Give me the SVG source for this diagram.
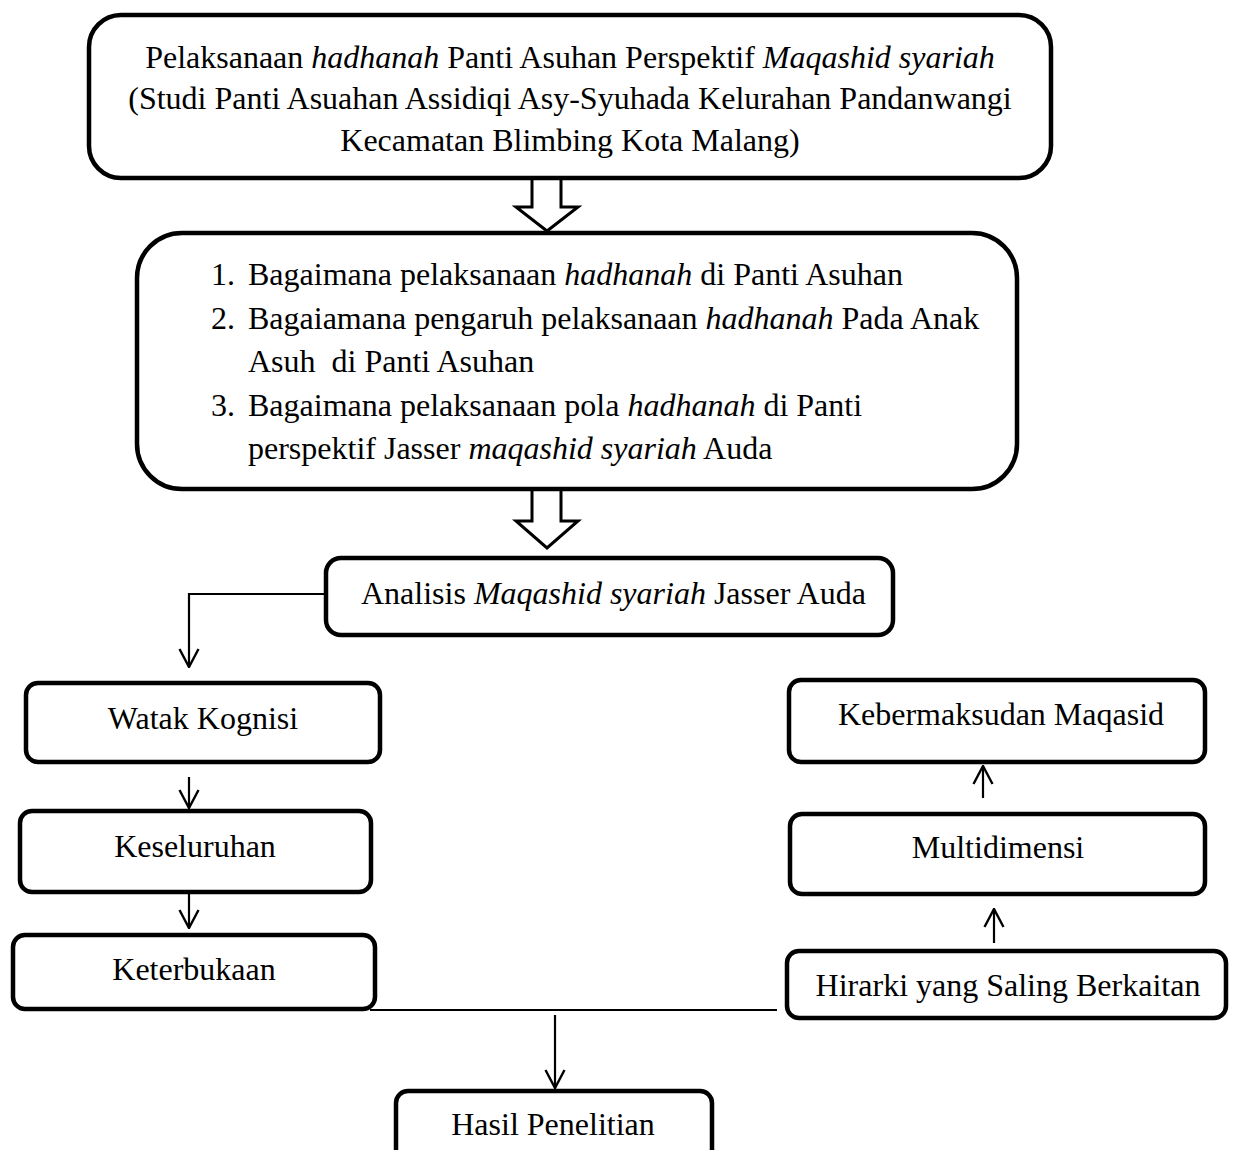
<svg xmlns="http://www.w3.org/2000/svg" width="1233" height="1150" viewBox="0 0 1233 1150">
<style>
.box{fill:#fff;stroke:#000;stroke-width:4.5}
.t{font-family:"Liberation Serif","Times New Roman",serif;font-size:32px;fill:#000}
.c{text-anchor:middle}
.i{font-style:italic}
.ln{fill:none;stroke:#000;stroke-width:2.2}
.ha{fill:#fff;stroke:#000;stroke-width:3;stroke-linejoin:miter}
</style>
<defs>
<marker id="ah" viewBox="0 0 20 22" refX="19" refY="11" markerWidth="20" markerHeight="22" markerUnits="userSpaceOnUse" orient="auto">
<path d="M1,1.5 L19,11 L1,20.5" fill="none" stroke="#000" stroke-width="2.4"/>
</marker>
</defs>
<rect width="1233" height="1150" fill="#fff"/>
<g id="connectors">
<path class="ha" d="M532,178 L532,207 L516,207 L547,231 L578,207 L561,207 L561,178"/>
<path class="ha" d="M532,490 L532,521 L516,521 L547,548 L578,521 L561,521 L561,490"/>
<path class="ln" d="M326,594 H189 V667" marker-end="url(#ah)"/>
<path class="ln" d="M189,777 V808" marker-end="url(#ah)"/>
<path class="ln" d="M189,893 V928" marker-end="url(#ah)"/>
<path class="ln" d="M370,1010 H777"/>
<path class="ln" d="M555,1015 V1088" marker-end="url(#ah)"/>
<path class="ln" d="M983,798 V766" marker-end="url(#ah)"/>
<path class="ln" d="M994,943 V909" marker-end="url(#ah)"/>
</g>
<g id="n-title">
<rect class="box" x="89" y="15" width="962" height="163" rx="32"/>
<text class="t c" x="570" y="68">Pelaksanaan <tspan class="i">hadhanah</tspan> Panti Asuhan Perspektif <tspan class="i">Maqashid syariah</tspan></text>
<text class="t c" x="570" y="109">(Studi Panti Asuahan Assidiqi Asy-Syuhada Kelurahan Pandanwangi</text>
<text class="t c" x="570" y="151">Kecamatan Blimbing Kota Malang)</text>
</g>
<g id="n-questions">
<rect class="box" x="137" y="233" width="880" height="256" rx="45"/>
<text class="t" x="211" y="285">1.</text>
<text class="t" x="248" y="285">Bagaimana pelaksanaan <tspan class="i">hadhanah</tspan> di Panti Asuhan</text>
<text class="t" x="211" y="329">2.</text>
<text class="t" x="248" y="329">Bagaiamana pengaruh pelaksanaan <tspan class="i">hadhanah</tspan> Pada Anak</text>
<text class="t" x="248" y="372" style="white-space:pre">Asuh  di Panti Asuhan</text>
<text class="t" x="211" y="416">3.</text>
<text class="t" x="248" y="416">Bagaimana pelaksanaan pola <tspan class="i">hadhanah</tspan> di Panti</text>
<text class="t" x="248" y="459">perspektif Jasser <tspan class="i">maqashid syariah</tspan> Auda</text>
</g>
<g id="n-analisis">
<rect class="box" x="326" y="558" width="567" height="77" rx="15"/>
<text class="t" x="361" y="604">Analisis <tspan class="i">Maqashid syariah</tspan> Jasser Auda</text>
</g>
<g id="n-watak">
<rect class="box" x="26" y="683" width="354" height="79" rx="12"/>
<text class="t c" x="203" y="729">Watak Kognisi</text>
</g>
<g id="n-keseluruhan">
<rect class="box" x="20" y="811" width="351" height="81" rx="12"/>
<text class="t c" x="195" y="857">Keseluruhan</text>
</g>
<g id="n-keterbukaan">
<rect class="box" x="13" y="935" width="362" height="74" rx="12"/>
<text class="t c" x="194" y="980">Keterbukaan</text>
</g>
<g id="n-kebermaksudan">
<rect class="box" x="789" y="680" width="416" height="82" rx="12"/>
<text class="t c" x="1001" y="725">Kebermaksudan Maqasid</text>
</g>
<g id="n-multidimensi">
<rect class="box" x="790" y="814" width="415" height="80" rx="12"/>
<text class="t c" x="998" y="858">Multidimensi</text>
</g>
<g id="n-hirarki">
<rect class="box" x="787" y="951" width="439" height="67" rx="12"/>
<text class="t c" x="1008" y="996">Hirarki yang Saling Berkaitan</text>
</g>
<g id="n-hasil">
<rect class="box" x="396" y="1091" width="316" height="80" rx="12"/>
<text class="t c" x="553" y="1135">Hasil Penelitian</text>
</g>
</svg>
